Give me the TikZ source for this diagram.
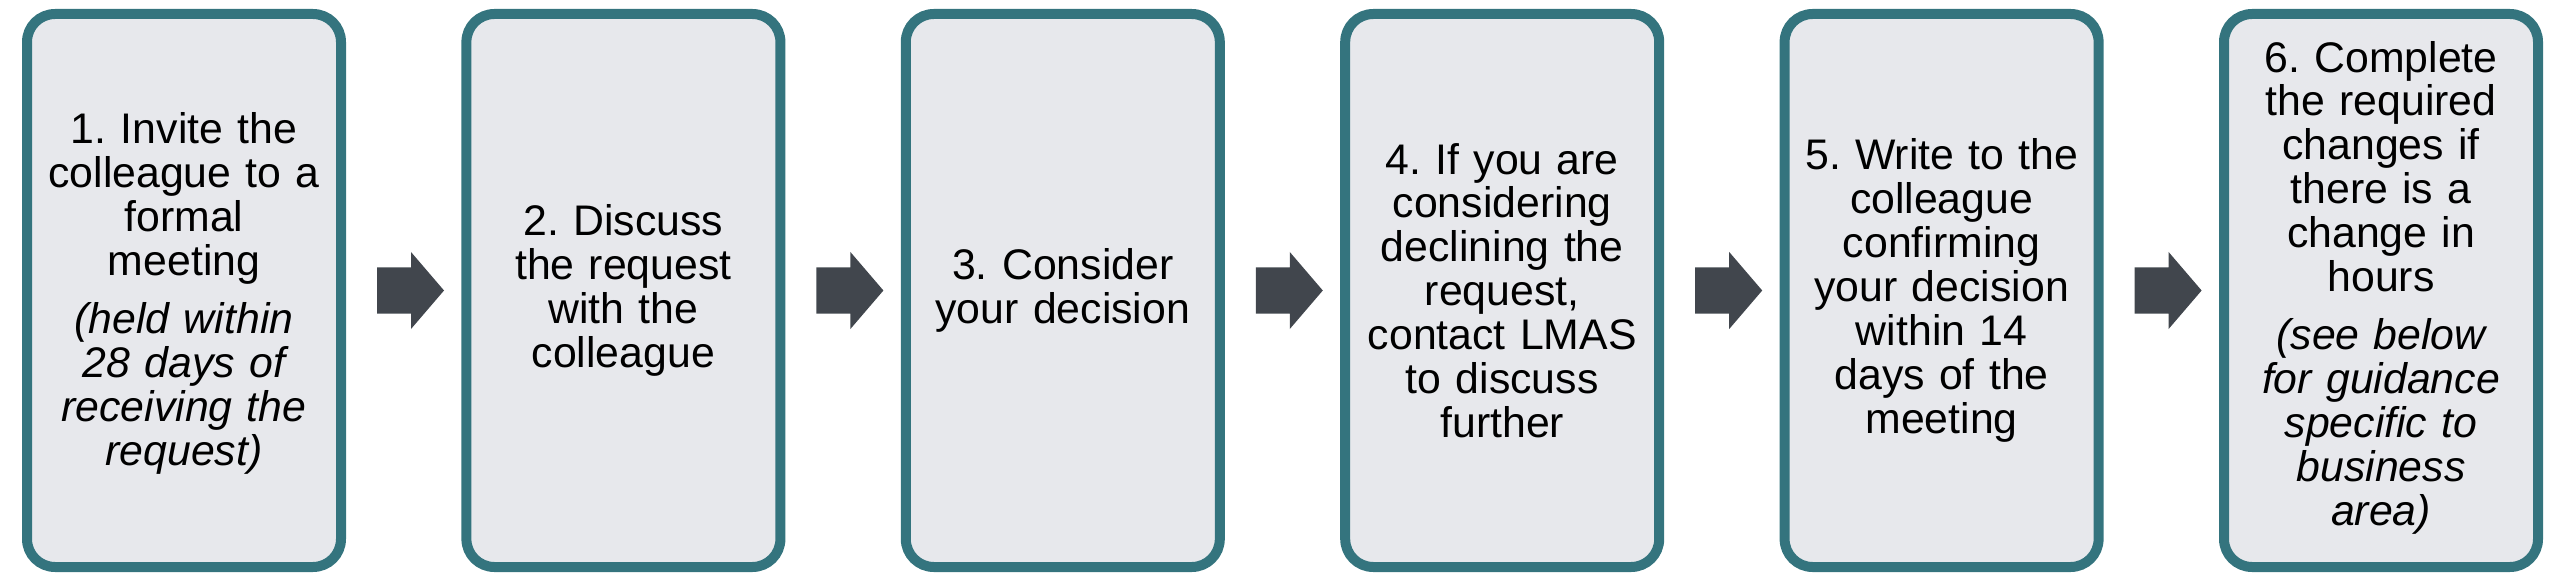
\documentclass[tikz,border=0pt]{standalone}
\usepackage{fontspec}
\setmainfont{Liberation Sans}
\usetikzlibrary{calc}
\definecolor{boxborder}{HTML}{34747E}
\definecolor{boxfill}{HTML}{E7E8EC}
\definecolor{arrowfill}{HTML}{41464D}
\tikzset{
  stepbox/.style={draw=boxborder, fill=boxfill, line width=10pt, rounded corners=28pt,
    minimum width=314pt, minimum height=553pt, inner sep=0pt},
  steptext/.style={text width=310pt, align=center, inner sep=0pt,
    font=\fontsize{42.8}{43.9}\selectfont\frenchspacing},
  blockarrow/.style={fill=arrowfill, draw=none}
}
\newcommand{\paragap}{\\[14pt]}
\begin{document}
\begin{tikzpicture}[x=1pt,y=1pt]
\useasboundingbox (0,0) rectangle (2568,582);
\foreach \i in {1,...,6} {
  \node[stepbox] (b\i) at ({184+439.4*(\i-1)},291.5) {};
}
\node[steptext] (t1) at ($(b1.center)+(0,-3)$) {1. Invite the\\ colleague to a\\ formal\\ meeting\paragap \itshape (held within\\ 28 days of\\ receiving the\\ request)};
\node[steptext] (t2) at (b2.center) {2. Discuss\\ the request\\ with the\\ colleague};
\node[steptext] (t3) at (b3.center) {3. Consider\\ your decision};
\node[steptext] (t4) at (b4.center) {4. If you are\\ considering\\ declining the\\ request,\\ contact LMAS\\ to discuss\\ further};
\node[steptext] (t5) at (b5.center) {5. Write to the\\ colleague\\ confirming\\ your decision\\ within 14\\ days of the\\ meeting};
\node[steptext] (t6) at ($(b6.center)+(0,3)$) {6. Complete\\ the required\\ changes if\\ there is a\\ change in\\ hours\paragap \itshape (see below\\ for guidance\\ specific to\\ business\\ area)};
\foreach \i in {1,...,5} {
  \fill[blockarrow] ($(b\i.east)+(31,23)$) -- ($(b\i.east)+(65,23)$) -- ($(b\i.east)+(65,38.5)$)
    -- ($(b\i.east)+(98,0)$) -- ($(b\i.east)+(65,-38.5)$) -- ($(b\i.east)+(65,-23)$)
    -- ($(b\i.east)+(31,-23)$) -- cycle;
}
\end{tikzpicture}
\end{document}
